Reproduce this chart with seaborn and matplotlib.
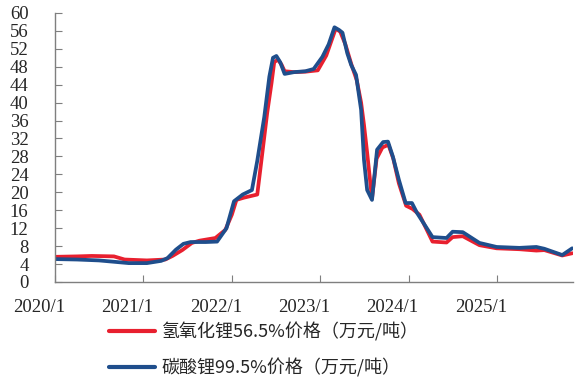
import pandas as pd
import numpy as np
import matplotlib
matplotlib.use("Agg")
import matplotlib.pyplot as plt
import matplotlib.transforms as mtransforms
import seaborn as sns

# 碳酸锂99.5%价格（万元/吨）
carb_dates = ["2020-01-01", "2020-04-01", "2020-07-01", "2020-09-01", "2020-11-01",
              "2021-01-15", "2021-03-15", "2021-04-10", "2021-05-15", "2021-06-15",
              "2021-07-15", "2021-09-15", "2021-11-01", "2021-12-10", "2022-01-10",
              "2022-02-15", "2022-03-25", "2022-04-16", "2022-05-15", "2022-06-05",
              "2022-06-20", "2022-07-04", "2022-07-20", "2022-08-07", "2022-09-15",
              "2022-11-01", "2022-12-05", "2023-01-10", "2023-02-05", "2023-03-01",
              "2023-03-20", "2023-04-03", "2023-04-23", "2023-05-09", "2023-05-29",
              "2023-06-19", "2023-07-01", "2023-07-14", "2023-08-03", "2023-08-24",
              "2023-09-18", "2023-10-08", "2023-10-28", "2023-11-22", "2023-12-20",
              "2024-01-15", "2024-02-05", "2024-04-09", "2024-06-06", "2024-07-01",
              "2024-08-12", "2024-10-20", "2024-12-30", "2025-04-03", "2025-06-12",
              "2025-07-15", "2025-09-27", "2025-11-07"]
carb_vals = [5.1, 5.0, 4.8, 4.5, 4.2,
             4.2, 4.7, 5.3, 7.2, 8.5,
             8.9, 8.9, 9.0, 12.0, 18.0,
             19.5, 20.5, 27.0, 36.8, 45.8,
             50.0, 50.4, 49.0, 46.4, 46.8,
             47.0, 47.5, 50.2, 53.0, 56.8,
             56.2, 55.6, 51.0, 48.4, 46.2,
             38.4, 27.2, 20.5, 18.3, 29.5,
             31.2, 31.3, 28.0, 22.8, 17.6,
             17.6, 15.4, 10.0, 9.8, 11.2,
             11.1, 8.7, 7.8, 7.6, 7.8,
             7.4, 6.0, 7.5]

# 氢氧化锂56.5%价格（万元/吨）
hyd_dates = ["2020-01-01", "2020-04-01", "2020-06-01", "2020-09-01", "2020-10-15",
             "2021-01-15", "2021-04-01", "2021-05-01", "2021-06-10", "2021-07-20",
             "2021-08-20", "2021-10-25", "2021-12-05", "2022-01-01", "2022-01-20",
             "2022-02-20", "2022-04-16", "2022-05-07", "2022-05-27", "2022-06-14",
             "2022-06-25", "2022-07-10", "2022-07-25", "2022-08-07", "2022-09-15",
             "2022-11-01", "2022-12-22", "2023-01-26", "2023-03-06", "2023-03-25",
             "2023-04-15", "2023-05-10", "2023-06-01", "2023-06-19", "2023-07-01",
             "2023-07-14", "2023-08-03", "2023-08-22", "2023-09-15", "2023-10-10",
             "2023-10-30", "2023-11-22", "2023-12-22", "2024-01-17", "2024-02-15",
             "2024-04-09", "2024-06-06", "2024-07-01", "2024-08-12", "2024-10-20",
             "2024-12-30", "2025-04-03", "2025-06-12", "2025-07-15", "2025-09-27",
             "2025-11-07"]
hyd_vals = [5.6, 5.7, 5.8, 5.7, 5.0,
            4.8, 5.0, 5.8, 7.1, 8.7,
            9.2, 9.8, 11.6, 15.0, 18.3,
            18.8, 19.5, 28.8, 37.7, 44.4,
            49.0, 49.6, 48.5, 47.0, 46.8,
            46.9, 47.2, 50.5, 56.5, 55.8,
            53.0, 48.5, 45.0, 40.0, 35.0,
            28.8, 18.6, 27.5, 30.0, 30.6,
            27.5, 22.0, 17.0, 16.3, 15.0,
            9.0, 8.8, 10.0, 10.2, 8.2,
            7.5, 7.3, 7.0, 7.1, 5.9,
            6.4]

tick_years = [2020, 2021, 2022, 2023, 2024, 2025]
tick_labels = ["2020/1", "2021/1", "2022/1", "2023/1", "2024/1", "2025/1"]

red = "#e8202f"
blue = "#1f4e8c"
serif = ["Liberation Serif", "DejaVu Serif"]
cjk = ["Noto Sans CJK SC", "DejaVu Sans"]

sns.set_style("ticks")
plt.rcParams['font.family'] = serif

fig = plt.figure(figsize=(5.84, 3.81), dpi=100)
ax = fig.add_axes([0.094, 0.260, 0.887, 0.706])

hyd = pd.DataFrame({"date": pd.to_datetime(hyd_dates), "price": hyd_vals})
carb = pd.DataFrame({"date": pd.to_datetime(carb_dates), "price": carb_vals})

line_kw = dict(linewidth=2.7, solid_joinstyle="round", solid_capstyle="round")
sns.lineplot(data=hyd, x="date", y="price", color=red,
             label="氢氧化锂56.5%价格（万元/吨）", ax=ax, **line_kw)
sns.lineplot(data=carb, x="date", y="price", color=blue,
             label="碳酸锂99.5%价格（万元/吨）", ax=ax, **line_kw)

ax.set_xlim(pd.Timestamp("2020-01-01"), pd.Timestamp("2025-11-10"))
ax.set_ylim(0, 60)
yt = np.arange(0, 61, 4)
ax.set_yticks(yt)
ax.set_yticklabels([str(v) for v in yt], family=serif, fontsize=13.5)
ax.set_xticks([pd.Timestamp(f"{y}-01-01") for y in tick_years])
ax.set_xticklabels(tick_labels, family=serif, fontsize=13.5)
ax.set_xlabel("")
ax.set_ylabel("")

for s in ["top", "right"]:
    ax.spines[s].set_visible(False)
for s in ["left", "bottom"]:
    ax.spines[s].set_color("#7f7f7f")
    ax.spines[s].set_linewidth(1.0)

ax.tick_params(axis="y", direction="in", length=5, color="#7f7f7f", pad=19)
ax.tick_params(axis="x", direction="in", length=5, color="#7f7f7f", pad=12)

offset = mtransforms.ScaledTranslation(-16 / 100, 0, fig.dpi_scale_trans)
for lab in ax.get_xticklabels():
    lab.set_transform(lab.get_transform() + offset)

ax.get_legend().remove()
handles, labels = ax.get_legend_handles_labels()
leg = fig.legend(handles, labels, loc="upper left", bbox_to_anchor=(0.158, 0.197),
                 frameon=False, handlelength=2.6, handletextpad=0.35, labelspacing=0.95,
                 prop={"family": cjk, "size": 13})
for line in leg.get_lines():
    line.set_linewidth(3.0)

fig.savefig("out.png", dpi=100)
